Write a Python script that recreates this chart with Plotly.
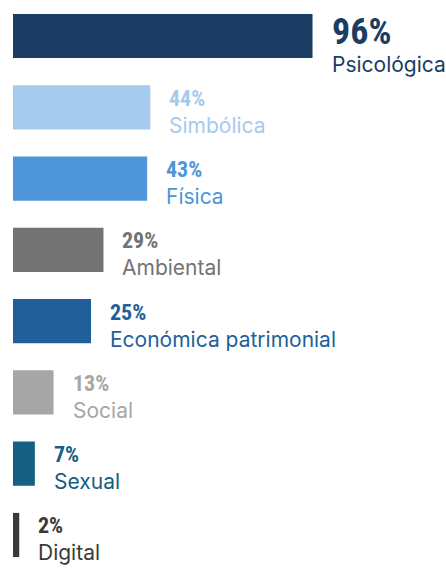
import plotly.graph_objects as go

categories = ["Psicológica", "Simbólica", "Física", "Ambiental",
              "Económica patrimonial", "Social", "Sexual", "Digital"]
values = [96, 44, 43, 29, 25, 13, 7, 2]
colors = ["#1B3D63", "#A6CAEC", "#4E95D9", "#737373",
          "#215F9A", "#A6A6A6", "#156082", "#3A3A3A"]

fig = go.Figure(go.Bar(
    x=values, y=categories, orientation="h",
    marker=dict(color=colors, line=dict(width=0)),
    width=0.62, hoverinfo="skip",
))

pct_font = "Roboto Condensed, Liberation Sans Narrow, Roboto"

annotations = []
for i, (cat, val, col) in enumerate(zip(categories, values, colors)):
    big = i == 0
    annotations.append(dict(
        x=val, y=cat, xref="x", yref="y", xanchor="left", yanchor="middle",
        xshift=17, yshift=4 if big else 9, showarrow=False,
        text="<b>%d%%</b>" % val,
        font=dict(family=pct_font, size=36 if big else 22, color=col),
    ))
    annotations.append(dict(
        x=val, y=cat, xref="x", yref="y", xanchor="left", yanchor="middle",
        xshift=17, yshift=-28 if big else -18, showarrow=False,
        text=cat,
        font=dict(family="Inter, Roboto", size=21, color=col),
    ))

fig.update_layout(
    width=446, height=568,
    margin=dict(l=13, r=121, t=0, b=0),
    paper_bgcolor="white", plot_bgcolor="white",
    showlegend=False,
    annotations=annotations,
    xaxis=dict(range=[0, 100], visible=False, fixedrange=True),
    yaxis=dict(range=[7.463, -0.505], visible=False, fixedrange=True),
)

fig.write_html("out.html", config={"displayModeBar": False},
               post_script="document.body.style.margin='0';")
